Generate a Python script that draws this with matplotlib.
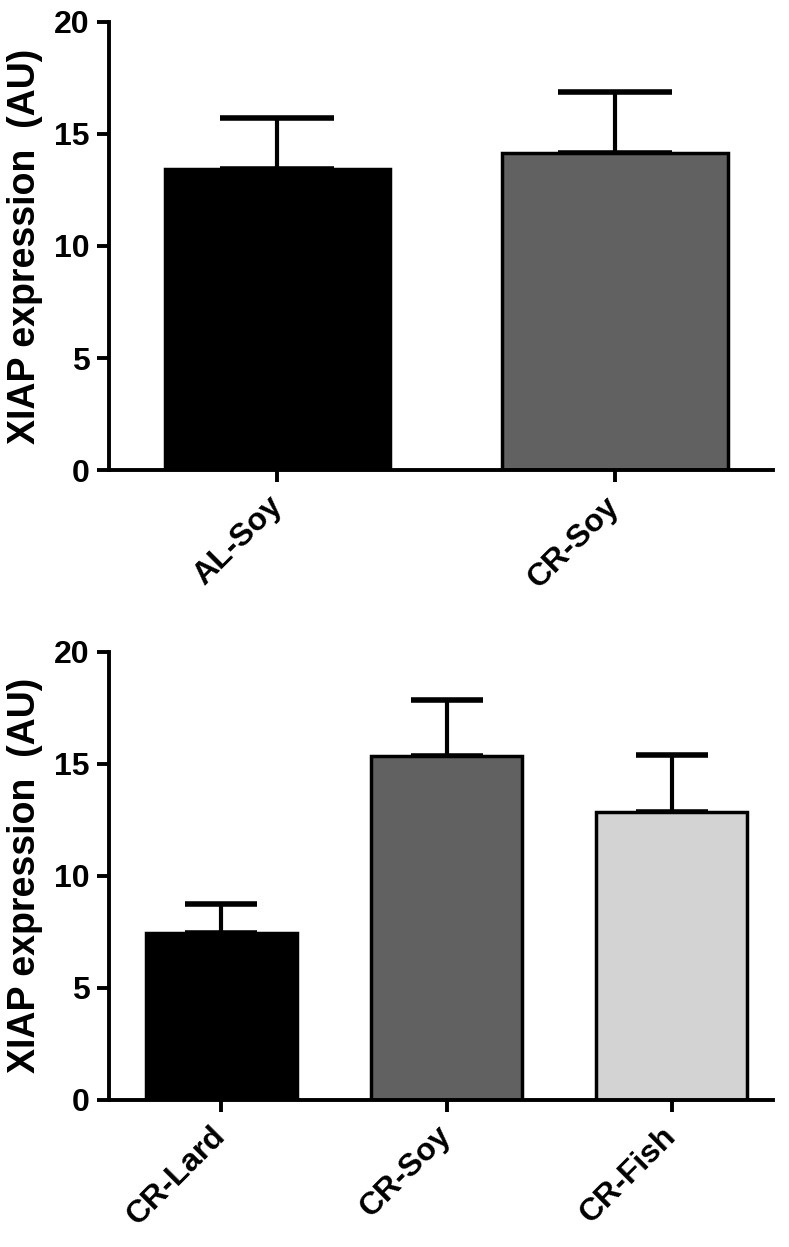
import numpy as np
import matplotlib
matplotlib.use("Agg")
import matplotlib.pyplot as plt

plt.rcParams['font.family'] = ['Liberation Sans', 'DejaVu Sans']
plt.rcParams['font.weight'] = 'bold'

# top panel
top_groups = ["AL-Soy", "CR-Soy"]
top_means = [13.45, 14.15]
top_sem = [2.25, 2.7]
top_colors = ["#000000", "#616161"]

# bottom panel
bot_groups = ["CR-Lard", "CR-Soy", "CR-Fish"]
bot_means = [7.45, 15.35, 12.85]
bot_sem = [1.3, 2.5, 2.55]
bot_colors = ["#000000", "#616161", "#d3d3d3"]

y_ticks = [0, 5, 10, 15, 20]
ylabel = "XIAP expression  (AU)"

fig = plt.figure(figsize=(7.89, 12.47), dpi=100)
ax1 = fig.add_axes([0.138, 0.623, 0.842, 0.3595])
ax2 = fig.add_axes([0.138, 0.118, 0.842, 0.3595])


def draw_panel(ax, groups, means, sem, colors, xlim, capsize):
    x = np.arange(len(groups))
    ax.bar(x, means, width=0.67, color=colors, edgecolor="black",
           linewidth=2.5, zorder=2)
    ax.errorbar(x, means, yerr=[np.zeros(len(sem)), sem], fmt="none",
                ecolor="black", elinewidth=3, capsize=capsize, capthick=4,
                zorder=1)
    ax.set_xlim(*xlim)
    ax.set_ylim(0, 20)
    ax.set_yticks(y_ticks)
    ax.set_xticks(x)
    ax.set_xticklabels(groups, rotation=45, ha="right", va="center",
                       rotation_mode="anchor", fontsize=23, fontweight="bold")
    ax.set_yticklabels([str(t) for t in y_ticks], fontsize=23,
                       fontweight="bold")
    ax.set_ylabel(ylabel, fontsize=27, fontweight="bold", labelpad=8)
    for side in ["top", "right"]:
        ax.spines[side].set_visible(False)
    for side in ["left", "bottom"]:
        ax.spines[side].set_linewidth(2.8)
    ax.tick_params(axis="both", width=2.8, length=8.6, direction="out")
    ax.tick_params(axis="y", pad=5)
    ax.tick_params(axis="x", pad=14)


draw_panel(ax1, top_groups, top_means, top_sem, top_colors, (-0.5, 1.47), 41)
draw_panel(ax2, bot_groups, bot_means, bot_sem, bot_colors, (-0.5, 2.45), 26)

fig.savefig("out.png", dpi=100)
